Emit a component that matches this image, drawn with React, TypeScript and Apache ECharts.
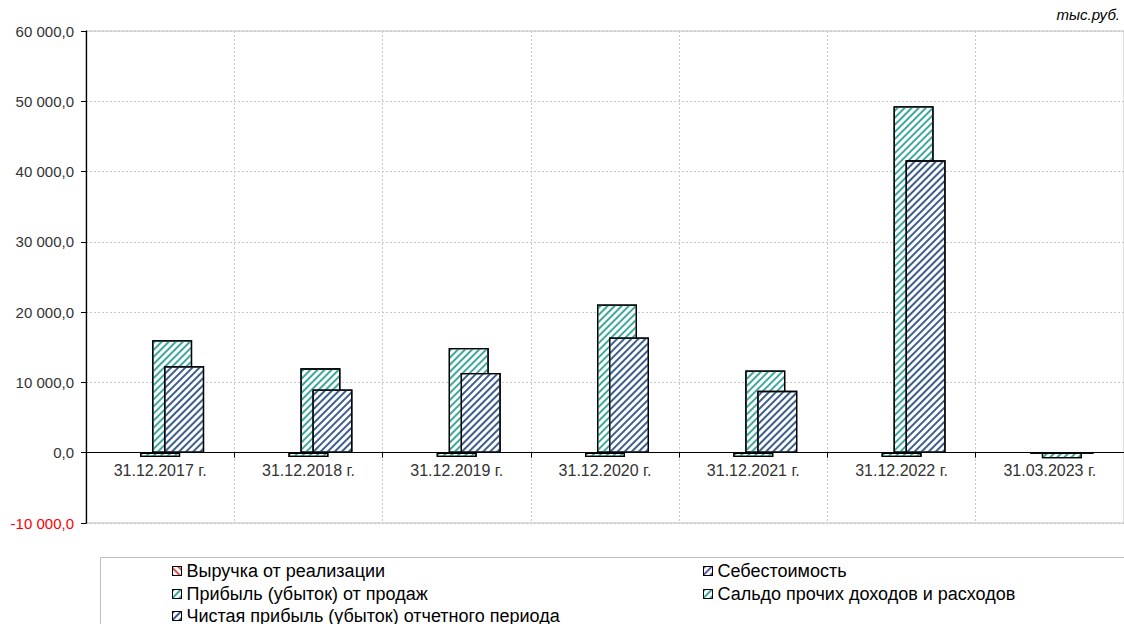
import React, { useEffect, useRef } from "react";
import * as echarts from "echarts";

const categories = [
  "31.12.2017 г.",
  "31.12.2018 г.",
  "31.12.2019 г.",
  "31.12.2020 г.",
  "31.12.2021 г.",
  "31.12.2022 г.",
  "31.03.2023 г.",
];
const seriesNames = [
  "Выручка от реализации",
  "Себестоимость",
  "Прибыль (убыток) от продаж",
  "Сальдо прочих доходов и расходов",
  "Чистая прибыль (убыток) отчетного периода",
];
const revenue: (number | null)[] = [null, null, null, null, null, null, null];
const cost: (number | null)[] = [null, null, null, null, null, null, null];
const salesProfit = [-600, -620, -600, -600, -620, -600, -100];
const otherBalance = [16000, 12000, 14900, 21100, 11700, 49300, -800];
const netProfit = [12300, 9000, 11350, 16400, 8800, 41600, -100];
const yTicks = { min: -10000, max: 60000, step: 10000 };
const unitLabel = "тыс.руб.";

const FONT = "'Liberation Sans', Arial, sans-serif";

const hatch = (color: string, rot: number) => ({
  symbol: "rect",
  symbolSize: 1,
  dashArrayX: [1, 0],
  dashArrayY: [1.6, 2.4],
  rotation: rot,
  color,
});

const colors = ["#d9534f", "#5b5fa8", "#3fa89c", "#3fa89c", "#3d5f8f"];

function fmt(v: number): string {
  const neg = v < 0;
  const s = Math.abs(Math.round(v)).toString().replace(/\B(?=(\d{3})+(?!\d))/g, " ");
  return (neg ? "-" : "") + s + ",0";
}

// legend slots: [left, centerY] per series
const legendSlots: [number, number][] = [
  [172, 571],
  [703, 571],
  [172, 594],
  [703, 594],
  [172, 616],
];

export default function App() {
  const ref = useRef<HTMLDivElement>(null);
  useEffect(() => {
    if (!ref.current) return;
    const chart = echarts.init(ref.current, undefined, { renderer: "svg" });
    const data = [revenue, cost, salesProfit, otherBalance, netProfit];
    const series = seriesNames.map((name, i) => ({
      name,
      type: "bar" as const,
      data: data[i],
      barWidth: 40,
      barGap: "-70%",
      itemStyle: {
        color: "#ffffff",
        borderColor: "#000000",
        borderWidth: 1.3,
        decal: hatch(colors[i], i === 0 ? Math.PI / 4 : -Math.PI / 4),
      },
      emphasis: { disabled: true },
    }));
    const legends = seriesNames.map((name, i) => ({
      orient: "horizontal" as const,
      icon: "rect",
      itemWidth: 9,
      itemHeight: 9,
      left: legendSlots[i][0],
      top: legendSlots[i][1] - 10,
      padding: 0,
      textStyle: {
        fontFamily: FONT,
        fontSize: 18,
        lineHeight: 20,
        color: "#000",
        padding: [0, 0, 0, 0],
      },
      selectedMode: false,
      itemStyle: { borderColor: "#000", borderWidth: 1 },
      data: [name],
    }));
    chart.setOption({
      animation: false,
      aria: { enabled: false, decal: { show: false } },
      textStyle: { fontFamily: FONT },
      grid: {
        left: 86,
        top: 31,
        right: 0,
        bottom: 101,
        show: true,
        borderColor: "#bdbdbd",
        borderWidth: 1,
        containLabel: false,
      },
      xAxis: {
        type: "category",
        data: categories,
        axisLine: { onZero: true, lineStyle: { color: "#000", width: 1 } },
        axisTick: { show: true, length: 5, lineStyle: { color: "#000" } },
        axisLabel: { fontSize: 16, color: "#333", margin: -61, fontFamily: FONT },
        splitLine: { show: true, lineStyle: { color: "#c8c8c8", type: [2, 2] } },
      },
      yAxis: {
        type: "value",
        min: yTicks.min,
        max: yTicks.max,
        interval: yTicks.step,
        axisLine: { show: true, lineStyle: { color: "#000", width: 1.3 } },
        axisTick: { show: true, length: 5, lineStyle: { color: "#000" } },
        axisLabel: {
          fontSize: 15,
          margin: 12,
          fontFamily: FONT,
          formatter: (v: number) => fmt(v),
          color: (v: any) => (Number(v) < 0 ? "#ff0000" : "#333"),
        },
        splitLine: { show: true, lineStyle: { color: "#c8c8c8", type: [2, 2] } },
      },
      legend: legends,
      graphic: [
        {
          type: "rect",
          shape: { x: 100.5, y: 557.5, width: 1040, height: 100 },
          style: { fill: "none", stroke: "#bdbdbd", lineWidth: 1 },
          silent: true,
          z: -1,
        },
        {
          type: "text",
          right: 4,
          top: 7,
          style: { text: unitLabel, fontFamily: FONT, fontSize: 15, fontStyle: "italic", fill: "#000" },
        },
      ],
      series,
    });
    return () => chart.dispose();
  }, []);
  return (
    <div
      ref={ref}
      style={{ position: "fixed", left: 0, top: 0, width: 1124, height: 624, background: "#fff" }}
    />
  );
}
